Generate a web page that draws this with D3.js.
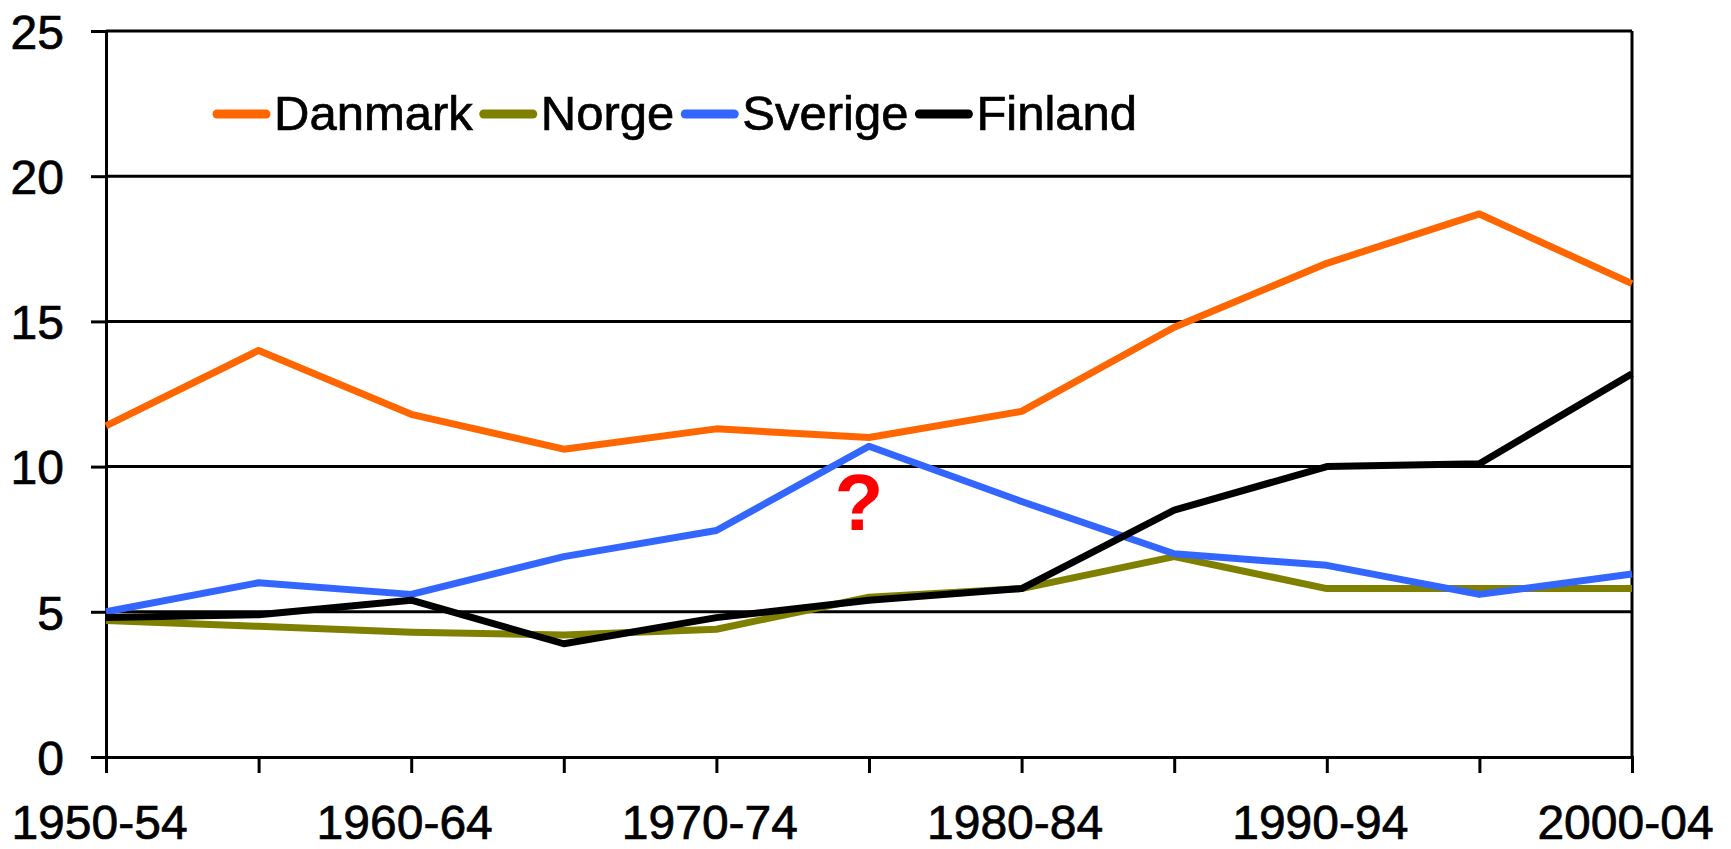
<!DOCTYPE html>
<html>
<head>
<meta charset="utf-8">
<script src="https://cdn.jsdelivr.net/npm/d3@7"></script>
<style>
  body { margin: 0; background: #fff; }
  text { font-family: "Liberation Sans", Arial, sans-serif; fill: #000; }
</style>
</head>
<body>
<div id="chart"></div>
<script>
var periods = ["1950-54", "1955-59", "1960-64", "1965-69", "1970-74", "1975-79",
               "1980-84", "1985-89", "1990-94", "1995-99", "2000-04"];
var labelledPeriods = ["1950-54", "1960-64", "1970-74", "1980-84", "1990-94", "2000-04"];
var yTicks = [0, 5, 10, 15, 20, 25];

var danmark = [11.4, 14.0, 11.8, 10.6, 11.3, 11.0, 11.9, 14.8, 17.0, 18.7, 16.3];
var norge   = [4.7, 4.5, 4.3, 4.2, 4.4, 5.5, 5.8, 6.9, 5.8, 5.8, 5.8];
var sverige = [5.0, 6.0, 5.6, 6.9, 7.8, 10.7, 8.8, 7.0, 6.6, 5.6, 6.3];
var finland = [4.8, 4.9, 5.4, 3.9, 4.8, 5.4, 5.8, 8.5, 10.0, 10.1, 13.2];

var series = [
  { name: "Danmark", values: danmark, color: "#ff6600" },
  { name: "Norge", values: norge, color: "#808000" },
  { name: "Sverige", values: sverige, color: "#3366ff" },
  { name: "Finland", values: finland, color: "#000000" }
];

var width = 1731,
  height = 849,
  margin = { top: 31, right: 99, bottom: 92, left: 106 };

var svg = d3.select("#chart").append("svg")
  .attr("width", width)
  .attr("height", height);

var x = d3.scalePoint()
  .domain(periods)
  .range([margin.left, width - margin.right]);

var y = d3.scaleLinear()
  .domain([0, 25])
  .range([height - margin.bottom, margin.top]);

// horizontal grid lines
svg.append("g")
  .selectAll("line")
  .data(yTicks.filter(function(d) { return d > 0; }))
  .enter().append("line")
  .attr("x1", margin.left)
  .attr("x2", width - margin.right)
  .attr("y1", function(d) { return y(d); })
  .attr("y2", function(d) { return y(d); })
  .attr("stroke", "#000")
  .attr("stroke-width", 3);

// right border
svg.append("line")
  .attr("x1", width - margin.right)
  .attr("x2", width - margin.right)
  .attr("y1", margin.top)
  .attr("y2", height - margin.bottom)
  .attr("stroke", "#000")
  .attr("stroke-width", 3);

var yAxis = svg.append("g")
  .attr("transform", "translate(" + margin.left + ",0)")
  .call(d3.axisLeft(y).tickValues(yTicks).tickSize(15).tickPadding(27));

var xAxis = svg.append("g")
  .attr("transform", "translate(0," + (height - margin.bottom) + ")")
  .call(d3.axisBottom(x).tickSize(16).tickPadding(32)
    .tickFormat(function(d) { return labelledPeriods.indexOf(d) >= 0 ? d : ""; }));

[yAxis, xAxis].forEach(function(a) {
  a.select(".domain").attr("stroke", "#000").attr("stroke-width", 3);
  a.selectAll(".tick line").attr("stroke", "#000").attr("stroke-width", 3);
  a.selectAll(".tick text")
    .style("font-family", "'Liberation Sans', Arial, sans-serif")
    .style("font-size", "48px")
    .attr("fill", "#000")
    .attr("stroke", "#000")
    .attr("stroke-width", 0.7);
});
yAxis.selectAll(".tick text").attr("dy", "0.36em");
xAxis.selectAll(".tick text").attr("dx", -7);

var line = d3.line()
  .x(function(d, i) { return x(periods[i]); })
  .y(function(d) { return y(d); });

svg.append("g")
  .selectAll("path")
  .data(series)
  .enter().append("path")
  .attr("d", function(d) { return line(d.values); })
  .attr("fill", "none")
  .attr("stroke", function(d) { return d.color; })
  .attr("stroke-width", 7)
  .attr("stroke-linejoin", "round");

// legend
var legend = svg.append("g").attr("transform", "translate(213,114)");
var lx = 0;
series.forEach(function(s) {
  legend.append("line")
    .attr("x1", lx + 4).attr("x2", lx + 53)
    .attr("y1", 0).attr("y2", 0)
    .attr("stroke", s.color)
    .attr("stroke-width", 9)
    .attr("stroke-linecap", "round");
  var t = legend.append("text")
    .attr("x", lx + 61)
    .attr("y", 16)
    .attr("stroke", "#000")
    .attr("stroke-width", 0.7)
    .style("font-size", "49px")
    .text(s.name);
  lx += 61 + t.node().getComputedTextLength() + 7;
});

// question mark
svg.append("text")
  .attr("x", x("1975-79") - 10)
  .attr("y", 530)
  .attr("text-anchor", "middle")
  .style("font-size", "80px")
  .style("font-weight", "bold")
  .style("fill", "#ff0000")
  .text("?");
</script>
</body>
</html>
